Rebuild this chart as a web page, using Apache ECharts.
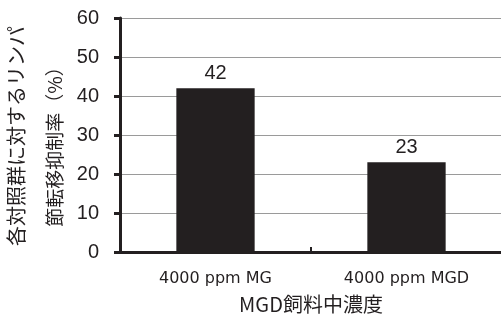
<!DOCTYPE html>
<html><head><meta charset="utf-8">
<script src="https://cdn.jsdelivr.net/npm/echarts@6/dist/echarts.min.js"></script>
<style>html,body{margin:0;padding:0;background:#fff}#c{width:501px;height:323px}</style>
</head><body><div id="c"></div>
<script>
const categories = ['4000 ppm MG', '4000 ppm MGD'];
const values = [42, 23];
const yTicks = [0, 10, 20, 30, 40, 50, 60];
const xName = 'MGD飼料中濃度';
const yNameLines = ['各対照群に対するリンパ', '節転移抑制率（%）'];

const ink = '#231f20';
const chart = echarts.init(document.getElementById('c'), null, {renderer: 'canvas'});
chart.setOption({
  animation: false,
  backgroundColor: '#fff',
  grid: {left: 120, top: 18, width: 382, height: 234, containLabel: false, outerBoundsMode: 'none'},
  graphic: [
    {type: 'text', x: 16, y: 136, rotation: Math.PI / 2,
     style: {text: yNameLines[0], fill: ink, font: '20px "Noto Sans CJK JP"', textAlign: 'center', textVerticalAlign: 'middle'}},
    {type: 'text', x: 55, y: 142, rotation: Math.PI / 2,
     style: {text: yNameLines[1], fill: ink, font: '19px "Noto Sans CJK JP"', textAlign: 'center', textVerticalAlign: 'middle'}}
  ],
  xAxis: {
    type: 'category', data: categories,
    name: xName, nameLocation: 'middle', nameGap: 42,
    nameTextStyle: {fontFamily: 'Noto Sans CJK JP', fontSize: 20, color: ink},
    axisLine: {lineStyle: {color: ink, width: 3}},
    axisTick: {show: true, inside: true, length: 5, lineStyle: {color: ink, width: 2}},
    axisLabel: {fontFamily: 'DejaVu Sans', fontSize: 16, color: ink, margin: 19}
  },
  yAxis: {
    type: 'value', min: yTicks[0], max: yTicks[yTicks.length - 1], interval: 10,
    axisLine: {show: true, lineStyle: {color: ink, width: 3}},
    axisTick: {show: true, length: 6, lineStyle: {color: ink, width: 3}},
    axisLabel: {fontFamily: 'Liberation Sans', fontSize: 20, color: ink, margin: 21},
    splitLine: {lineStyle: {color: '#9a9a9a', width: 1}}
  },
  series: [{
    type: 'bar', data: values, barWidth: '41%',
    itemStyle: {color: ink},
    label: {show: true, position: 'top', distance: 5, fontFamily: 'Liberation Sans', fontSize: 20, color: ink}
  }]
});
</script></body></html>
